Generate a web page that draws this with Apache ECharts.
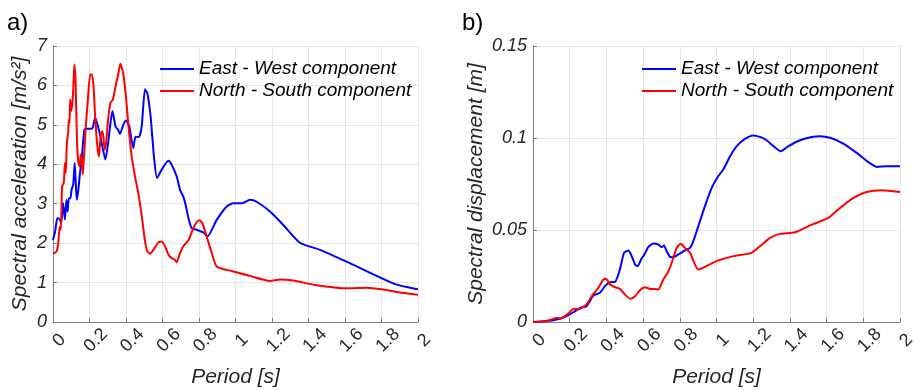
<!DOCTYPE html>
<html>
<head>
<meta charset="utf-8">
<script src="https://cdn.jsdelivr.net/npm/echarts@6/dist/echarts.min.js"></script>
<style>
html, body { margin: 0; padding: 0; background: #fff; }
#chart { width: 915px; height: 390px; }
</style>
</head>
<body>
<div id="chart"></div>
<script>
// spectral acceleration, east-west (blue)
const accEwT = [0, 0.012, 0.024, 0.037, 0.045, 0.055, 0.065, 0.074, 0.08, 0.087, 0.095, 0.102, 0.111, 0.119, 0.13, 0.139, 0.148, 0.157, 0.172, 0.185, 0.204, 0.217, 0.231, 0.246, 0.26, 0.274, 0.287, 0.302, 0.315, 0.326, 0.343, 0.356, 0.367, 0.385, 0.4, 0.418, 0.44, 0.452, 0.471, 0.486, 0.504, 0.517, 0.535, 0.553, 0.57, 0.595, 0.632, 0.65, 0.678, 0.696, 0.714, 0.727, 0.742, 0.76, 0.787, 0.824, 0.846, 0.897, 0.952, 0.988, 1.034, 1.079, 1.116, 1.189, 1.262, 1.353, 1.463, 1.609, 1.874, 2.0]
const accEwV = [2.08, 2.3, 2.64, 2.6, 2.5, 3.02, 2.6, 3.1, 2.8, 3.14, 3.14, 3.36, 3.5, 4.03, 3.1, 3.36, 3.78, 4.12, 4.88, 4.9, 4.9, 4.92, 5.18, 4.97, 4.7, 4.37, 4.12, 4.54, 5.05, 5.35, 4.95, 4.88, 4.77, 5.0, 5.11, 4.96, 4.41, 4.7, 4.69, 4.96, 5.9, 5.8, 5.21, 4.2, 3.65, 3.86, 4.09, 3.99, 3.69, 3.35, 3.18, 2.97, 2.64, 2.38, 2.34, 2.27, 2.17, 2.59, 2.93, 3.01, 3.01, 3.1, 3.05, 2.8, 2.46, 2.01, 1.83, 1.53, 0.96, 0.83]

// spectral acceleration, north-south (red)
const accNsT = [0, 0.019, 0.028, 0.037, 0.043, 0.05, 0.059, 0.065, 0.07, 0.076, 0.083, 0.087, 0.091, 0.094, 0.1, 0.106, 0.111, 0.117, 0.124, 0.131, 0.139, 0.146, 0.152, 0.157, 0.163, 0.17, 0.18, 0.191, 0.204, 0.213, 0.222, 0.231, 0.243, 0.252, 0.261, 0.269, 0.276, 0.283, 0.291, 0.302, 0.315, 0.328, 0.343, 0.357, 0.369, 0.385, 0.4, 0.413, 0.431, 0.449, 0.468, 0.486, 0.504, 0.517, 0.532, 0.55, 0.577, 0.595, 0.614, 0.632, 0.65, 0.668, 0.677, 0.696, 0.714, 0.742, 0.769, 0.787, 0.802, 0.818, 0.842, 0.87, 0.897, 0.988, 1.079, 1.189, 1.244, 1.317, 1.436, 1.609, 1.719, 1.8, 1.9, 2.0]
const accNsV = [1.73, 1.79, 1.96, 2.42, 2.34, 3.44, 3.53, 4.03, 3.78, 4.54, 4.8, 5.14, 5.05, 5.64, 5.35, 5.56, 5.9, 6.53, 6.07, 4.63, 4.03, 3.95, 4.25, 4.12, 3.74, 4.2, 4.97, 5.64, 6.28, 6.28, 5.98, 5.22, 4.46, 4.2, 4.71, 4.84, 4.71, 4.37, 4.54, 5.14, 5.56, 5.64, 5.98, 6.28, 6.55, 6.3, 5.7, 5.0, 4.2, 3.7, 3.25, 2.7, 2.05, 1.79, 1.73, 1.83, 2.02, 2.04, 1.92, 1.71, 1.62, 1.58, 1.51, 1.75, 1.92, 2.07, 2.38, 2.53, 2.58, 2.51, 2.17, 1.75, 1.41, 1.28, 1.17, 1.04, 1.08, 1.05, 0.94, 0.855, 0.87, 0.83, 0.75, 0.69]

// spectral displacement, east-west (blue)
const dispEwT = [0, 0.074, 0.129, 0.174, 0.22, 0.256, 0.292, 0.329, 0.365, 0.392, 0.42, 0.447, 0.465, 0.478, 0.496, 0.52, 0.538, 0.556, 0.57, 0.589, 0.607, 0.629, 0.656, 0.683, 0.701, 0.714, 0.728, 0.747, 0.765, 0.792, 0.828, 0.856, 0.874, 0.901, 0.937, 0.974, 1.01, 1.037, 1.074, 1.11, 1.155, 1.2, 1.237, 1.273, 1.31, 1.35, 1.392, 1.455, 1.519, 1.564, 1.619, 1.691, 1.764, 1.827, 1.873, 1.927, 2.0]
const dispEwV = [0, 0.0005, 0.0014, 0.0028, 0.0053, 0.0077, 0.0086, 0.0144, 0.0159, 0.0195, 0.0216, 0.0218, 0.0258, 0.0303, 0.0376, 0.0389, 0.0358, 0.0313, 0.0303, 0.034, 0.0367, 0.0408, 0.0427, 0.0421, 0.0407, 0.0416, 0.0385, 0.0354, 0.0352, 0.0367, 0.0389, 0.0403, 0.044, 0.0521, 0.063, 0.0729, 0.0793, 0.0829, 0.0901, 0.0956, 0.0995, 0.1014, 0.1006, 0.0988, 0.0956, 0.0928, 0.0956, 0.0988, 0.1006, 0.101, 0.1001, 0.097, 0.0919, 0.0869, 0.0843, 0.0847, 0.0847]

// spectral displacement, north-south (red)
const dispNsT = [0, 0.074, 0.11, 0.129, 0.147, 0.174, 0.2, 0.22, 0.247, 0.265, 0.292, 0.32, 0.356, 0.383, 0.398, 0.42, 0.447, 0.474, 0.501, 0.532, 0.556, 0.583, 0.61, 0.638, 0.665, 0.683, 0.71, 0.738, 0.756, 0.783, 0.805, 0.828, 0.856, 0.901, 1.0, 1.092, 1.192, 1.237, 1.292, 1.346, 1.428, 1.51, 1.609, 1.673, 1.746, 1.818, 1.9, 2.0]
const dispNsV = [0, 0.0005, 0.0017, 0.0023, 0.0019, 0.0032, 0.0053, 0.0072, 0.0068, 0.0077, 0.0095, 0.014, 0.0186, 0.0231, 0.0235, 0.0204, 0.0189, 0.018, 0.0149, 0.0126, 0.014, 0.0173, 0.0189, 0.018, 0.018, 0.0177, 0.0231, 0.0276, 0.0322, 0.0403, 0.0425, 0.0403, 0.0376, 0.0285, 0.0331, 0.0358, 0.0376, 0.0412, 0.0457, 0.0479, 0.0488, 0.0525, 0.0566, 0.062, 0.0675, 0.0707, 0.0716, 0.0707]

const seriesNames = ['East - West component', 'North - South component']

const font = "'Liberation Sans', Arial, Helvetica, sans-serif"
const textColor = '#262626'
const axisColor = '#808080'
const gridColor = '#e6e6e6'

function zip (t, v) {
  return t.map((x, i) => [x, v[i]])
}

function periodAxis (gridIndex) {
  return {
    type: 'value',
    gridIndex: gridIndex,
    min: 0,
    max: 2,
    interval: 0.2,
    name: 'Period [s]',
    nameLocation: 'middle',
    nameGap: 45,
    nameTextStyle: { fontSize: 21, fontStyle: 'italic', color: textColor, fontFamily: font },
    axisLine: { show: true, onZero: false, lineStyle: { color: axisColor, width: 1 } },
    axisTick: { show: true, inside: true, length: 4, lineStyle: { color: axisColor } },
    axisLabel: {
      rotate: 45,
      align: 'center',
      verticalAlign: 'top',
      margin: 12,
      fontSize: 18,
      color: textColor,
      fontFamily: font
    },
    splitLine: { show: true, lineStyle: { color: gridColor, width: 1 } }
  }
}

function valueAxis (gridIndex, name, max, interval, nameGap) {
  return {
    type: 'value',
    gridIndex: gridIndex,
    min: 0,
    max: max,
    interval: interval,
    name: name,
    nameLocation: 'middle',
    nameGap: nameGap,
    nameTextStyle: { fontSize: 21, fontStyle: 'italic', color: textColor, fontFamily: font },
    axisLine: { show: true, onZero: false, lineStyle: { color: axisColor, width: 1 } },
    axisTick: { show: true, inside: true, length: 4, lineStyle: { color: axisColor } },
    axisLabel: { margin: 6, fontSize: 18, fontStyle: 'italic', color: textColor, fontFamily: font },
    splitLine: { show: true, lineStyle: { color: gridColor, width: 1 } }
  }
}

function legendAt (left) {
  return {
    left: left,
    top: 58,
    padding: 0,
    orient: 'vertical',
    icon: 'rect',
    itemWidth: 34,
    itemHeight: 2,
    itemGap: 0,
    data: seriesNames,
    textStyle: { fontSize: 19, lineHeight: 22, fontStyle: 'italic', color: '#000', fontFamily: font }
  }
}

function lineSeries (name, data, axisIndex, color) {
  return {
    name: name,
    type: 'line',
    xAxisIndex: axisIndex,
    yAxisIndex: axisIndex,
    data: data,
    symbol: 'none',
    showSymbol: false,
    smooth: 0.2,
    lineStyle: { color: color, width: 2 },
    itemStyle: { color: color }
  }
}

const chart = echarts.init(document.getElementById('chart'))
chart.setOption({
  animation: false,
  backgroundColor: '#fff',
  textStyle: { fontFamily: font },
  grid: [
    { left: 53, top: 46, width: 365, height: 276, outerBoundsMode: 'none' },
    { left: 533, top: 46, width: 367, height: 276, outerBoundsMode: 'none' }
  ],
  xAxis: [periodAxis(0), periodAxis(1)],
  yAxis: [
    valueAxis(0, 'Spectral acceleration [m/s²]', 7, 1, 22),
    valueAxis(1, 'Spectral displacement [m]', 0.15, 0.05, 46)
  ],
  legend: [legendAt(160), legendAt(642)],
  graphic: [
    { type: 'text', left: 7, top: 11, style: { text: 'a)', fontSize: 24, fill: '#000', fontFamily: font } },
    { type: 'text', left: 462, top: 11, style: { text: 'b)', fontSize: 24, fill: '#000', fontFamily: font } }
  ],
  series: [
    lineSeries(seriesNames[0], zip(accEwT, accEwV), 0, '#0000ff'),
    lineSeries(seriesNames[1], zip(accNsT, accNsV), 0, '#ff0000'),
    lineSeries(seriesNames[0], zip(dispEwT, dispEwV), 1, '#0000ff'),
    lineSeries(seriesNames[1], zip(dispNsT, dispNsV), 1, '#ff0000')
  ]
})
</script>
</body>
</html>
